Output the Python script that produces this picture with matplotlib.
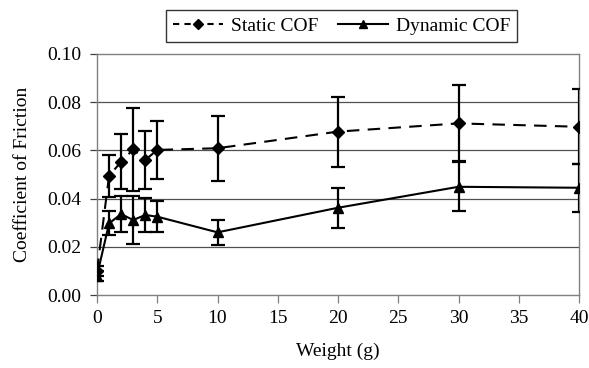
import matplotlib
matplotlib.use("Agg")
import matplotlib.pyplot as plt
from matplotlib.lines import Line2D

weight = [0, 1, 2, 3, 4, 5, 10, 20, 30, 40]
static_cof = [0.0100, 0.0494, 0.0553, 0.0604, 0.0560, 0.0602, 0.0609, 0.0678, 0.0712, 0.0698]
static_err = [0.0020, 0.0088, 0.0113, 0.0173, 0.0120, 0.0120, 0.0135, 0.0145, 0.0158, 0.0155]
dynamic_cof = [0.0080, 0.0297, 0.0336, 0.0311, 0.0332, 0.0325, 0.0260, 0.0362, 0.0449, 0.0445]
dynamic_err = [0.0020, 0.0050, 0.0073, 0.0100, 0.0072, 0.0065, 0.0052, 0.0083, 0.0102, 0.0100]

x_ticks = [0, 5, 10, 15, 20, 25, 30, 35, 40]
y_ticks = [0.00, 0.02, 0.04, 0.06, 0.08, 0.10]

plt.rcParams['font.family'] = ['Liberation Serif', 'DejaVu Serif']

fig = plt.figure(figsize=(5.89, 3.68), dpi=100)
ax = fig.add_axes([97/589, 1-295/368, (579-97)/589, (295-54)/368])

for y in y_ticks[1:-1]:
    ax.axhline(y, color='#505050', lw=0.9, zorder=1)

ax.errorbar(weight, static_cof, yerr=static_err, fmt='none', ecolor='black',
            elinewidth=1.6, capsize=5, capthick=1.6, zorder=3)
ax.errorbar(weight, dynamic_cof, yerr=dynamic_err, fmt='none', ecolor='black',
            elinewidth=1.6, capsize=5, capthick=1.6, zorder=3)
ax.plot(weight, static_cof, color='black', lw=1.5, dashes=(6, 4), marker='D',
        markersize=6.5, zorder=4)
ax.plot(weight, dynamic_cof, color='black', lw=1.5, marker='^',
        markersize=7.5, zorder=4)

ax.set_xlim(0, 40)
ax.set_ylim(0, 0.10)
ax.set_xticks(x_ticks)
ax.set_yticks(y_ticks)
ax.set_yticklabels([f"{v:.2f}" for v in y_ticks])
ax.tick_params(axis='x', direction='out', length=6, width=0.9, color='#808080',
               labelsize=14, pad=5)
ax.tick_params(axis='y', direction='out', length=5, width=0.9, color='#404040',
               labelsize=14, pad=6)
for s in ax.spines.values():
    s.set_color('#808080')
    s.set_linewidth(1.0)

ax.set_xlabel('Weight (g)', fontsize=14, labelpad=11)
ax.set_ylabel('Coefficient of Friction', fontsize=14, labelpad=12)

handles = [Line2D([], [], color='black', lw=1.5, dashes=(3, 2.5), marker='D', markersize=5),
           Line2D([], [], color='black', lw=1.5, marker='^', markersize=6)]
leg = fig.legend(handles, ['Static COF', 'Dynamic COF'], loc='center',
                 bbox_to_anchor=(341.5/589, 1-26/368), ncol=2, frameon=True,
                 fancybox=False, edgecolor='black', fontsize=14,
                 handlelength=2.6, columnspacing=1.0, handletextpad=0.4,
                 borderpad=0.35)
leg.get_frame().set_linewidth(1.0)

fig.savefig('out.png', dpi=100)
